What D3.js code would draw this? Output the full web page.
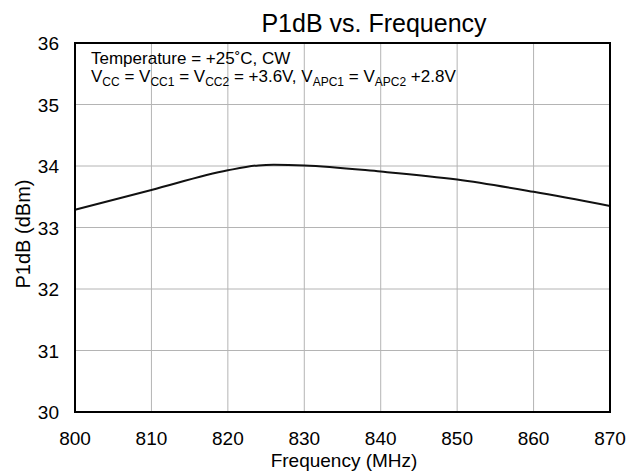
<!DOCTYPE html>
<html>
<head>
<meta charset="utf-8">
<script src="https://cdn.jsdelivr.net/npm/d3@7"></script>
<style>
body { margin: 0; background: #fff; }
text { font-family: "Liberation Sans", Arial, sans-serif; fill: #000; }
.grid line { stroke: #b4b4b4; stroke-width: 1; }
</style>
</head>
<body>
<script>
const width = 630,
    height = 474;

const margin = {left: 75, right: 20, top: 43, bottom: 62};

// data
const freq = [800, 810, 820, 824, 826, 830, 840, 850, 860, 870];
const p1db = [33.29, 33.61, 33.93, 34.01, 34.02, 34.01, 33.91, 33.78, 33.58, 33.35];
const xTicks = [800, 810, 820, 830, 840, 850, 860, 870];
const yTicks = [30, 31, 32, 33, 34, 35, 36];

const x = d3.scaleLinear().domain([800, 870]).range([margin.left, width - margin.right]);
const y = d3.scaleLinear().domain([30, 36]).range([height - margin.bottom, margin.top]);

const svg = d3.select('body').append('svg')
    .attr('width', width)
    .attr('height', height);

// grid
const grid = svg.append('g').attr('class', 'grid');
grid.selectAll('line.v')
    .data(xTicks.slice(1, -1))
    .enter().append('line')
    .attr('x1', d => x(d)).attr('x2', d => x(d))
    .attr('y1', y(36)).attr('y2', y(30));
grid.selectAll('line.h')
    .data(yTicks.slice(1, -1))
    .enter().append('line')
    .attr('x1', x(800)).attr('x2', x(870))
    .attr('y1', d => y(d)).attr('y2', d => y(d));

// tick labels
svg.append('g').selectAll('text')
    .data(xTicks)
    .enter().append('text')
    .attr('x', d => x(d))
    .attr('y', y(30) + 33)
    .attr('text-anchor', 'middle')
    .style('font-size', '19px')
    .text(d => d);

svg.append('g').selectAll('text')
    .data(yTicks)
    .enter().append('text')
    .attr('x', x(800) - 16)
    .attr('y', d => y(d) + 7)
    .attr('text-anchor', 'end')
    .style('font-size', '19px')
    .text(d => d);

// curve
const line = d3.line()
    .x((d, i) => x(freq[i]))
    .y(d => y(d))
    .curve(d3.curveMonotoneX);

svg.append('path')
    .datum(p1db)
    .attr('d', line)
    .attr('fill', 'none')
    .attr('stroke', '#111')
    .attr('stroke-width', 2);

// frame
svg.append('rect')
    .attr('x', x(800)).attr('y', y(36))
    .attr('width', x(870) - x(800))
    .attr('height', y(30) - y(36))
    .attr('fill', 'none')
    .attr('stroke', '#000')
    .attr('stroke-width', 2);

// titles
svg.append('text')
    .attr('x', 374).attr('y', 32)
    .attr('text-anchor', 'middle')
    .style('font-size', '25px')
    .text('P1dB vs. Frequency');

svg.append('text')
    .attr('x', 344).attr('y', 467)
    .attr('text-anchor', 'middle')
    .style('font-size', '19px')
    .text('Frequency (MHz)');

svg.append('text')
    .attr('transform', 'translate(30,234) rotate(-90)')
    .attr('text-anchor', 'middle')
    .style('font-size', '20px')
    .text('P1dB (dBm)');

// notes
svg.append('text')
    .attr('x', 91).attr('y', 64)
    .style('font-size', '17px')
    .text('Temperature = +25˚C, CW');

const note = svg.append('text')
    .attr('x', 91).attr('y', 82)
    .style('font-size', '17px');
const parts = [
    ['V', ''], ['CC', 'sub'], [' = V', ''], ['CC1', 'sub'], [' = V', ''], ['CC2', 'sub'],
    [' = +3.6V, V', ''], ['APC1', 'sub'], [' = V', ''], ['APC2', 'sub'], [' +2.8V', '']
];
parts.forEach((p, i) => {
    const t = note.append('tspan').text(p[0]);
    if (p[1] === 'sub') t.attr('dy', 4).style('font-size', '12px');
    else t.attr('dy', i > 0 ? -4 : 0);
});
</script>
</body>
</html>
